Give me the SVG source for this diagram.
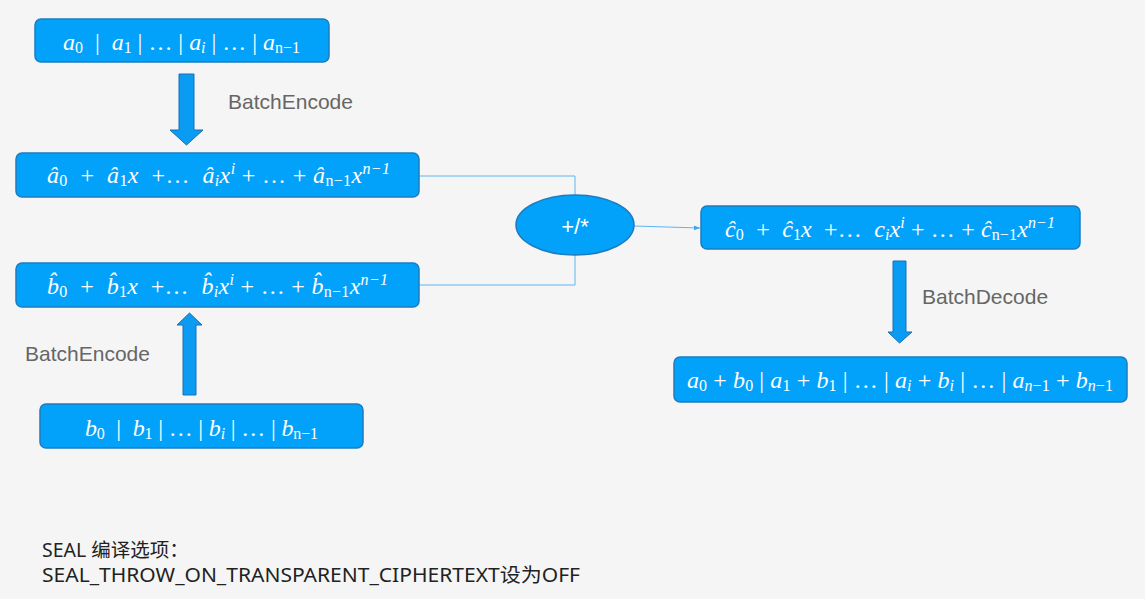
<svg xmlns="http://www.w3.org/2000/svg" width="1145" height="599" viewBox="0 0 1145 599">
<defs>
<style>
.box{fill:#03A2FA;stroke:#1C7CC0;stroke-width:1.5}
.m{font-family:"Liberation Serif","DejaVu Serif",serif;font-size:24px;fill:#fff}
.v{font-style:italic}
.s{font-size:16px}
.lbl{font-family:"Liberation Sans",Arial,sans-serif;font-size:21px;fill:#666}
.conn{fill:none;stroke:#5AB6F2;stroke-width:1}
.barrow{fill:#0A9BF2;stroke:#1A6FB5;stroke-width:1}
.note{font-family:"Noto Sans","Noto Sans CJK SC",sans-serif;font-size:19.5px;fill:#222}
.op{font-family:"Liberation Sans",Arial,sans-serif;font-size:22px;fill:#fff}
</style>
<marker id="ah" viewBox="0 0 10 10" refX="10" refY="5" markerWidth="6" markerHeight="6" orient="auto"><path d="M0,1 L10,5 L0,9 Z" fill="#3AA8F0"/></marker>
</defs>
<rect width="1145" height="599" fill="#F5F5F5"/>
<g id="connectors">
<polyline class="conn" points="419,176 575,176 575,195"/>
<polyline class="conn" points="419,285 575,285 575,255"/>
<line class="conn" x1="634" y1="226" x2="700" y2="228" marker-end="url(#ah)"/>
<path class="barrow" d="M179,74 L194,74 L194,130 L203,130 L186.5,145 L170,130 L179,130 Z"/>
<path class="barrow" d="M183,395 L196,395 L196,325 L202,325 L189.5,313 L177,325 L183,325 Z"/>
<path class="barrow" d="M893,261 L906,261 L906,332 L912,332 L899.5,343 L888,332 L893,332 Z"/>
</g>
<g id="label-encode-a"><text class="lbl" x="228" y="109">BatchEncode</text></g>
<g id="label-encode-b"><text class="lbl" x="25" y="361">BatchEncode</text></g>
<g id="label-decode"><text class="lbl" x="922" y="304">BatchDecode</text></g>
<g id="node-a">
<rect class="box" x="35" y="19" width="294" height="43" rx="6"/>
<text class="m" x="63" y="50" textLength="237" lengthAdjust="spacing" xml:space="preserve"><tspan class="v">a</tspan><tspan class="s" dy="3">0</tspan><tspan dy="-3">  |  </tspan><tspan class="v">a</tspan><tspan class="s" dy="3">1</tspan><tspan dy="-3"> | … | </tspan><tspan class="v">a</tspan><tspan class="s v" dy="3">i</tspan><tspan dy="-3"> | … | </tspan><tspan class="v">a</tspan><tspan class="s" dy="3">n−1</tspan></text>
</g>
<g id="node-ahat">
<rect class="box" x="16" y="153" width="403" height="44" rx="6"/>
<text class="m" x="47" y="183" textLength="343" lengthAdjust="spacing" xml:space="preserve"><tspan class="v">â</tspan><tspan class="s" dy="3">0</tspan><tspan dy="-3">  +  </tspan><tspan class="v">â</tspan><tspan class="s" dy="3">1</tspan><tspan class="v" dy="-3">x</tspan><tspan>  +…  </tspan><tspan class="v">â</tspan><tspan class="s v" dy="3">i</tspan><tspan class="v" dy="-3">x</tspan><tspan class="s v" dy="-9">i</tspan><tspan dy="9"> + … + </tspan><tspan class="v">â</tspan><tspan class="s" dy="3">n−1</tspan><tspan class="v" dy="-3">x</tspan><tspan class="s v" dy="-9">n−1</tspan></text>
</g>
<g id="node-bhat">
<rect class="box" x="16" y="263" width="403" height="44" rx="6"/>
<text class="m" x="47" y="294" textLength="341" lengthAdjust="spacing" xml:space="preserve"><tspan class="v">b&#x302;</tspan><tspan class="s" dy="3">0</tspan><tspan dy="-3">  +  </tspan><tspan class="v">b&#x302;</tspan><tspan class="s" dy="3">1</tspan><tspan class="v" dy="-3">x</tspan><tspan>  +…  </tspan><tspan class="v">b&#x302;</tspan><tspan class="s v" dy="3">i</tspan><tspan class="v" dy="-3">x</tspan><tspan class="s v" dy="-9">i</tspan><tspan dy="9"> + … + </tspan><tspan class="v">b&#x302;</tspan><tspan class="s" dy="3">n−1</tspan><tspan class="v" dy="-3">x</tspan><tspan class="s v" dy="-9">n−1</tspan></text>
</g>
<g id="node-b">
<rect class="box" x="40" y="404" width="323" height="44" rx="6"/>
<text class="m" x="85" y="436" textLength="233" lengthAdjust="spacing" xml:space="preserve"><tspan class="v">b</tspan><tspan class="s" dy="3">0</tspan><tspan dy="-3">  |  </tspan><tspan class="v">b</tspan><tspan class="s" dy="3">1</tspan><tspan dy="-3"> | … | </tspan><tspan class="v">b</tspan><tspan class="s v" dy="3">i</tspan><tspan dy="-3"> | … | </tspan><tspan class="v">b</tspan><tspan class="s" dy="3">n−1</tspan></text>
</g>
<g id="node-op">
<ellipse class="box" cx="575" cy="225" rx="59" ry="30"/>
<text class="op" x="575" y="234" text-anchor="middle">+/*</text>
</g>
<g id="node-chat">
<rect class="box" x="701" y="206" width="379" height="43" rx="6"/>
<text class="m" x="725" y="237" textLength="330" lengthAdjust="spacing" xml:space="preserve"><tspan class="v">ĉ</tspan><tspan class="s" dy="3">0</tspan><tspan dy="-3">  +  </tspan><tspan class="v">ĉ</tspan><tspan class="s" dy="3">1</tspan><tspan class="v" dy="-3">x</tspan><tspan>  +…  </tspan><tspan class="v">c</tspan><tspan class="s v" dy="3">i</tspan><tspan class="v" dy="-3">x</tspan><tspan class="s v" dy="-9">i</tspan><tspan dy="9"> + … + </tspan><tspan class="v">ĉ</tspan><tspan class="s" dy="3">n−1</tspan><tspan class="v" dy="-3">x</tspan><tspan class="s v" dy="-9">n−1</tspan></text>
</g>
<g id="node-result">
<rect class="box" x="674" y="357" width="453" height="45" rx="6"/>
<text class="m" x="687" y="388" textLength="426" lengthAdjust="spacing" xml:space="preserve"><tspan class="v">a</tspan><tspan class="s" dy="3">0</tspan><tspan dy="-3"> + </tspan><tspan class="v">b</tspan><tspan class="s" dy="3">0</tspan><tspan dy="-3"> | </tspan><tspan class="v">a</tspan><tspan class="s" dy="3">1</tspan><tspan dy="-3"> + </tspan><tspan class="v">b</tspan><tspan class="s" dy="3">1</tspan><tspan dy="-3"> | … | </tspan><tspan class="v">a</tspan><tspan class="s v" dy="3">i</tspan><tspan dy="-3"> + </tspan><tspan class="v">b</tspan><tspan class="s v" dy="3">i</tspan><tspan dy="-3"> | … | </tspan><tspan class="v">a</tspan><tspan class="s" dy="3"><tspan class="v">n</tspan>−1</tspan><tspan dy="-3"> + </tspan><tspan class="v">b</tspan><tspan class="s" dy="3"><tspan class="v">n</tspan>−1</tspan></text>
</g>
<g id="note">
<text class="note" x="42" y="557">SEAL 编译选项：</text>
<text class="note" x="42" y="582" textLength="538" lengthAdjust="spacingAndGlyphs">SEAL_THROW_ON_TRANSPARENT_CIPHERTEXT设为OFF</text>
</g>
</svg>
